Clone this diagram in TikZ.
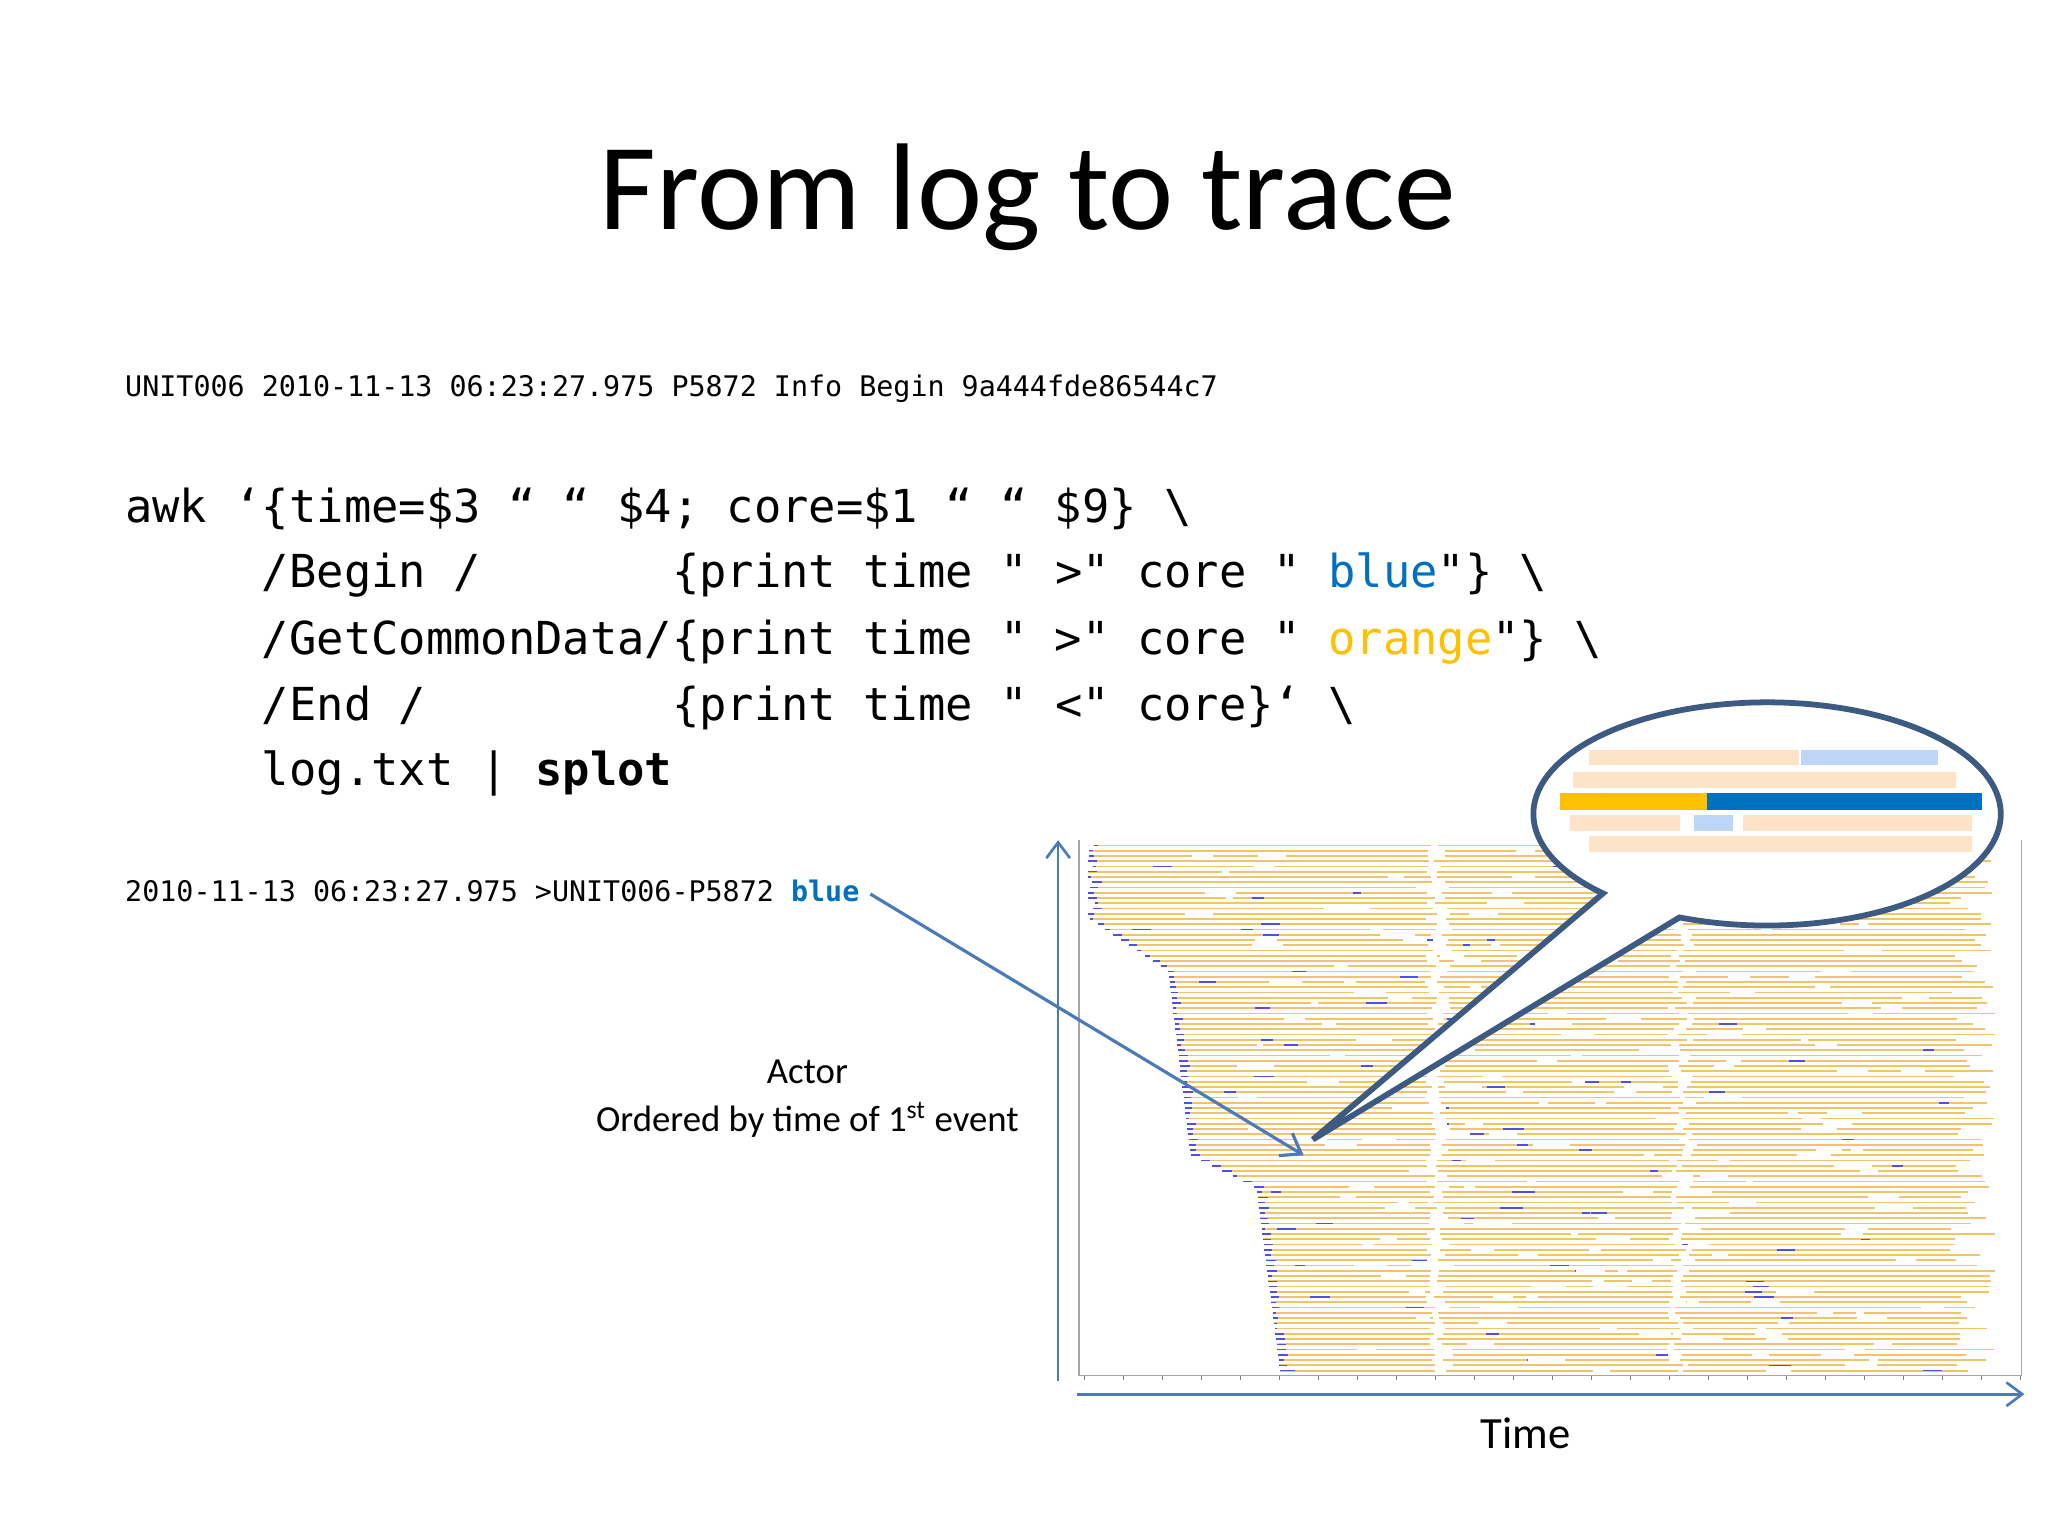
\documentclass[tikz,border=0pt]{standalone}
\usepackage{fontspec}
\setmainfont{Carlito}
\setmonofont{DejaVu Sans Mono}
\usetikzlibrary{arrows.meta}
\definecolor{cblue}{HTML}{0070C0}
\definecolor{corange}{HTML}{FFC000}
\definecolor{axisblue}{HTML}{4A7AB8}
\definecolor{calloutc}{HTML}{3C5A82}
\definecolor{rowor}{HTML}{F2C46A}
\definecolor{rowbl}{HTML}{5050E0}
\definecolor{peach}{HTML}{FDE3C8}
\definecolor{lblue}{HTML}{BDD5F7}
\tikzset{
  code/.style={anchor=west,inner sep=0pt,font=\ttfamily\fontsize{17.3pt}{20pt}\selectfont},
  small/.style={anchor=west,inner sep=0pt,font=\ttfamily\fontsize{10.8pt}{12pt}\selectfont},
  rowline/.style={rowor,line width=0.7pt},
  rowblue/.style={rowbl,line width=0.6pt},
  rowgap/.style={white,line width=0.9pt},
  axis/.style={axisblue,line width=1pt,-{Straight Barb[length=6pt,width=9pt]}},
}
\begin{document}
\begin{tikzpicture}[x=0.5pt,y=-0.5pt]
\useasboundingbox (0,0) rectangle (1560,1170);
\fill[white] (0,0) rectangle (1560,1170);
\node[font=\fontsize{47pt}{56pt}\selectfont] (title) at (783,150) {From log to trace};
\node[small] (log) at (95,296) {UNIT006 2010-11-13 06:23:27.975 P5872 Info Begin 9a444fde86544c7};
\node[code] (c1) at (95,388) {awk ‘\{time=\$3 “ “ \$4; core=\$1 “ “ \$9\} \textbackslash};
\node[code] (c2) at (95,438) {~~~~~/Begin /~~~~~~~\{print time " >" core " \textcolor{cblue}{blue}"\} \textbackslash};
\node[code] (c3) at (95,489) {~~~~~/GetCommonData/\{print time " >" core " \textcolor{corange}{orange}"\} \textbackslash};
\node[code] (c4) at (95,539) {~~~~~/End /~~~~~~~~~\{print time " <" core\}‘ \textbackslash};
\node[code] (c5) at (95,589) {~~~~~log.txt | \textbf{splot}};
\node[small] (out) at (95,679) {2010-11-13 06:23:27.975 >UNIT006-P5872 \textbf{\textcolor{cblue}{blue}}};
\node[align=center,font=\fontsize{14pt}{18.5pt}\selectfont] (actor) at (615,837) {Actor\\Ordered by time of 1\textsuperscript{st} event};
\node[font=\fontsize{17pt}{20pt}\selectfont] (time) at (1162,1092) {Time};
% chart frame
\draw[gray!70,line width=0.5pt] (822,640) -- (822,1048) -- (1540,1048) -- (1540,640);
\foreach \t in {0,...,24} \draw[gray,line width=0.4pt] (826+29.7*\t,1048) -- ++(0,3);
\pgfmathsetseed{7}
\foreach \i in {0,...,100}{
  \pgfmathsetmacro\yy{644+4*\i}
  \pgfmathsetmacro\xs{\yy<700 ? 828+6*rnd : (\yy<740 ? 830+(\yy-700)*1.5 : (\yy<880 ? 890+(\yy-740)*0.12 : (\yy<905 ? 907+(\yy-880)*2 : 957+(\yy-905)*0.13)))}
  \pgfmathsetmacro\xe{1485+35*rnd}
  \draw[rowline] (\xs,\yy) -- (\xe,\yy);
  \pgfmathsetmacro\bl{2+6*rnd}
  \draw[rowblue] (\xs,\yy) -- ++(\bl,0);
  \foreach \k in {1,2}{
    \pgfmathsetmacro\bx{\xs+rnd*(\xe-\xs-30)}
    \pgfmathsetmacro\bw{rnd<0.55 ? 0 : 5+12*rnd}
    \draw[rowblue] (\bx,\yy) -- ++(\bw,0);
  }
  \foreach \k in {1,2}{
    \pgfmathsetmacro\gx{\xs+40+rnd*(\xe-\xs-80)}
    \pgfmathsetmacro\gw{5+25*rnd}
    \draw[rowgap] (\gx,\yy) -- ++(\gw,0);
  }
  \pgfmathsetmacro\ga{1085+10*rnd}
  \draw[rowgap] (\ga,\yy) -- ++(4+10*rnd,0);
  \pgfmathsetmacro\gb{1270+15*rnd}
  \draw[rowgap] (\gb,\yy) -- ++(3+8*rnd,0);
}
% axes
\coordinate (ya) at (806,1052);
\coordinate (yb) at (806,640);
\coordinate (xa) at (820,1062);
\coordinate (xb) at (1542,1062);
\draw[axis] (ya) -- (yb);
\draw[axis] (xa) -- (xb);
% arrow from blue
\coordinate (tip) at (993,880);
\draw[axisblue,line width=1.2pt,-{Straight Barb[length=7pt,width=10pt]}] (out.east) ++(8,2) -- (tip);
% callout
\coordinate (ctip) at (1000,868);
\draw[calloutc,line width=2.2pt,fill=white,line join=miter]
  ({1346+178*cos(112)},{620+85*sin(112)}) arc[start angle=112,end angle=-225.4,x radius=178,y radius=85] -- (ctip) -- cycle;
\fill[peach] (1210,571) rectangle (1370,583);
\fill[lblue] (1372,571) rectangle (1476,583);
\fill[peach] (1198,588) rectangle (1490,600);
\fill[corange] (1188,604) rectangle (1300,617);
\fill[cblue] (1300,604) rectangle (1510,617);
\fill[peach] (1196,621) rectangle (1280,633);
\fill[lblue] (1290,621) rectangle (1320,633);
\fill[peach] (1328,621) rectangle (1502,633);
\fill[peach] (1210,637) rectangle (1502,649);
\end{tikzpicture}
\end{document}
